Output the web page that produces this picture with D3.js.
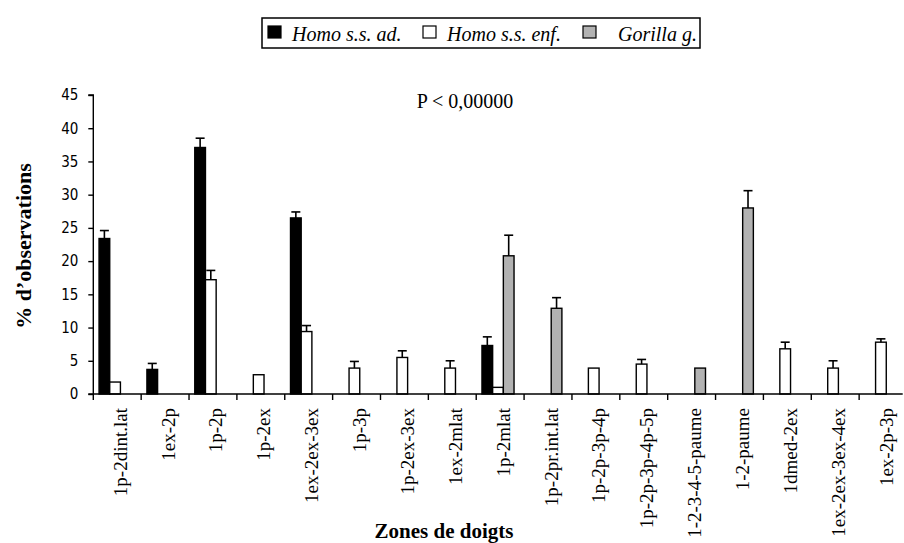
<!DOCTYPE html>
<html lang="fr">
<head>
<meta charset="UTF-8">
<title>Zones de doigts</title>
<script src="https://d3js.org/d3.v7.min.js"></script>
<style>
  body { margin: 0; background: #fff; }
  svg { display: block; }
  .tick-y text { font-family: "DejaVu Sans Condensed", "Liberation Sans", sans-serif; font-size: 15px; }
  .cat { font-family: "Liberation Serif", serif; font-size: 19px; }
</style>
</head>
<body>
<div id="chart"></div>
<script>
// categories and series
const zones = ["1p-2dint.lat", "1ex-2p", "1p-2p", "1p-2ex", "1ex-2ex-3ex", "1p-3p",
  "1p-2ex-3ex", "1ex-2mlat", "1p-2mlat", "1p-2pr.int.lat", "1p-2p-3p-4p",
  "1p-2p-3p-4p-5p", "1-2-3-4-5-paume", "1-2-paume", "1dmed-2ex",
  "1ex-2ex-3ex-4ex", "1ex-2p-3p"];
const seriesNames = ["Homo s.s. ad.", "Homo s.s. enf.", "Gorilla g."];
const adult    = [23.4, 3.7, 37.1, null, 26.5, null, null, null, 7.3, null, null, null, null, null, null, null, null];
const adultErr = [1.2, 0.9, 1.4, 0, 0.9, 0, 0, 0, 1.3, 0, 0, 0, 0, 0, 0, 0, 0];
const child    = [1.8, null, 17.2, 2.9, 9.4, 3.9, 5.5, 3.9, 1.0, null, 3.9, 4.5, null, null, 6.8, 3.9, 7.8];
const childErr = [0, 0, 1.4, 0, 0.9, 1.0, 1.0, 1.1, 0, 0, 0, 0.7, 0, 0, 1.0, 1.1, 0.5];
const gorilla    = [null, null, null, null, null, null, null, null, 20.8, 12.9, null, null, 3.9, 28.0, null, null, null];
const gorillaErr = [0, 0, 0, 0, 0, 0, 0, 0, 3.1, 1.6, 0, 0, 0, 2.6, 0, 0, 0];
const yTicks = [0, 5, 10, 15, 20, 25, 30, 35, 40, 45];
const fills = ["#000000", "#ffffff", "#b2b2b2"];

const W = 904, H = 543;
const svg = d3.select("#chart").append("svg").attr("width", W).attr("height", H);

const x0 = d3.scaleBand().domain(zones).range([93.3, 902.7]).paddingInner(0.33).paddingOuter(0.12);
const x1 = d3.scaleBand().domain([0, 1, 2]).range([0, x0.bandwidth()]);
const y = d3.scaleLinear().domain([0, 45]).range([394, 95]);

// rows: one per bar
const rows = [];
zones.forEach((z, i) => {
  [[adult, adultErr], [child, childErr], [gorilla, gorillaErr]].forEach((s, k) => {
    if (s[0][i] != null) rows.push({ zone: z, k: k, v: s[0][i], e: s[1][i] });
  });
});

// bars
svg.append("g").selectAll("rect").data(rows).enter().append("rect")
  .attr("x", d => x0(d.zone) + x1(d.k))
  .attr("y", d => y(d.v))
  .attr("width", x1.bandwidth())
  .attr("height", d => y(0) - y(d.v))
  .attr("fill", d => fills[d.k])
  .attr("stroke", "#000")
  .attr("stroke-width", 1.4);

// error bars (upper only)
const eb = svg.append("g").selectAll("g").data(rows.filter(d => d.e > 0)).enter().append("g")
  .attr("stroke", "#000").attr("stroke-width", 1.6);
eb.append("line")
  .attr("x1", d => x0(d.zone) + x1(d.k) + x1.bandwidth() / 2)
  .attr("x2", d => x0(d.zone) + x1(d.k) + x1.bandwidth() / 2)
  .attr("y1", d => y(d.v)).attr("y2", d => y(d.v + d.e));
eb.append("line")
  .attr("x1", d => x0(d.zone) + x1(d.k) + x1.bandwidth() / 2 - 4.5)
  .attr("x2", d => x0(d.zone) + x1(d.k) + x1.bandwidth() / 2 + 4.5)
  .attr("y1", d => y(d.v + d.e)).attr("y2", d => y(d.v + d.e));

// y axis
const yAxis = svg.append("g").attr("class", "tick-y")
  .attr("transform", "translate(93.3,0)")
  .call(d3.axisLeft(y).tickValues(yTicks).tickSize(5).tickPadding(10));
yAxis.selectAll("path, line").attr("stroke", "#000").attr("stroke-width", 1.4);
yAxis.select(".domain").attr("d", "M-5," + y(45) + "H0V" + y(0) + "H-5");
yAxis.selectAll("text").attr("fill", "#000");

// x axis: ticks at category boundaries
const step = x0.step();
const bounds = d3.range(zones.length + 1).map(i => 93.3 + i * step);
const xg = svg.append("g");
xg.append("line").attr("x1", 93.3).attr("x2", 902.7).attr("y1", y(0)).attr("y2", y(0))
  .attr("stroke", "#000").attr("stroke-width", 1.4);
xg.selectAll(".xt").data(bounds).enter().append("line")
  .attr("x1", d => d).attr("x2", d => d).attr("y1", y(0)).attr("y2", y(0) + 6)
  .attr("stroke", "#000").attr("stroke-width", 1.4);
xg.selectAll(".cat").data(zones).enter().append("text")
  .attr("class", "cat")
  .attr("transform", d => "translate(" + (x0(d) + x0.bandwidth() / 2 + 5) + ",408) rotate(-90)")
  .attr("text-anchor", "end")
  .attr("dy", "0.35em")
  .text(d => d);

// axis titles
svg.append("text")
  .attr("transform", "translate(23,246) rotate(-90)")
  .attr("text-anchor", "middle").attr("dy", "0.35em")
  .style("font-family", "Liberation Serif, serif").style("font-weight", "bold").style("font-size", "22px")
  .text("% d\u2019observations");
svg.append("text")
  .attr("x", 444).attr("y", 538).attr("text-anchor", "middle")
  .style("font-family", "Liberation Serif, serif").style("font-weight", "bold").style("font-size", "21px")
  .text("Zones de doigts");

svg.append("text")
  .attr("x", 465).attr("y", 108).attr("text-anchor", "middle")
  .style("font-family", "Liberation Serif, serif").style("font-size", "20px")
  .text("P < 0,00000");

// legend
const lg = svg.append("g");
lg.append("rect").attr("x", 262).attr("y", 18).attr("width", 438).attr("height", 30)
  .attr("fill", "#fff").attr("stroke", "#000").attr("stroke-width", 1.5);
const legX = [268, 423, 583];
seriesNames.forEach((n, k) => {
  lg.append("rect").attr("x", legX[k]).attr("y", 26).attr("width", 13).attr("height", 12)
    .attr("fill", fills[k]).attr("stroke", "#000").attr("stroke-width", 1.2);
  lg.append("text").attr("x", legX[k] + 24 + (k === 2 ? 11 : 0)).attr("y", 41)
    .style("font-family", "Liberation Serif, serif").style("font-style", "italic").style("font-size", "20px")
    .text(n);
});
</script>
</body>
</html>
